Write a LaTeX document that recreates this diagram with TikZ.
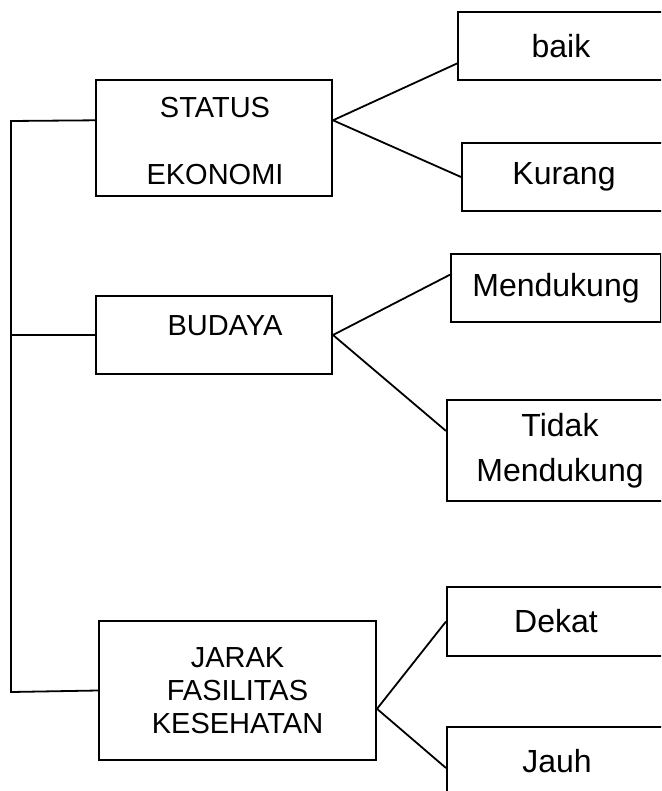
\documentclass[tikz,border=0pt]{standalone}
\usepackage{fontspec}
\setmainfont{Liberation Sans}
\usetikzlibrary{calc}
\begin{document}
\begin{tikzpicture}[x=1pt,y=-1pt,
  line width=2pt,
  box/.style={draw, rectangle, inner sep=0pt, line width=2pt},
  lefttxt/.style={font=\fontsize{29}{33}\selectfont, align=center, inner sep=0pt},
  righttxt/.style={font=\fontsize{32}{45}\selectfont, align=center, inner sep=0pt},
  conn/.style={line width=1.8pt}]
\clip (0,0) rectangle (661,791);
\fill[white] (0,0) rectangle (661,791);
% left boxes
\node[box, minimum width=236pt, minimum height=116pt] (se) at (214,138) {};
\node[lefttxt] (setxt1) at (215,108) {STATUS};
\node[lefttxt] (setxt2) at (215,175) {EKONOMI};
\node[box, minimum width=236pt, minimum height=78pt] (bu) at (214,335) {};
\node[lefttxt] (butxt) at (225,326) {BUDAYA};
\node[box, lefttxt, minimum width=277pt, minimum height=139pt] (jk) at (237.5,690.5) {JARAK\\FASILITAS\\KESEHATAN};
% right boxes
\node[box, righttxt, minimum width=206pt, minimum height=68pt] (baik) at (561,46) {baik};
\node[box, righttxt, minimum width=204pt, minimum height=68pt] (kur) at (564,177) {Kurang};
\node[box, righttxt, minimum width=210pt, minimum height=68pt] (men) at (556,288) {Mendukung};
\node[box, righttxt, minimum width=226pt, minimum height=101pt] (tid) at (560,450.5) {Tidak\\Mendukung};
\node[box, righttxt, minimum width=218pt, minimum height=69pt] (dek) at (556,621.5) {Dekat};
\node[box, righttxt, minimum width=220pt, minimum height=68pt] (jauh) at (557,761) {Jauh};
% anchor points
\coordinate (seW) at ($(se.north west)!0.35!(se.south west)$);
\coordinate (seE) at ($(se.north east)!0.35!(se.south east)$);
\coordinate (baikW) at ($(baik.north west)!0.75!(baik.south west)$);
\coordinate (menW) at ($(men.north west)!0.31!(men.south west)$);
\coordinate (tidW) at ($(tid.north west)!0.31!(tid.south west)$);
\coordinate (jkE) at ($(jk.north east)!0.63!(jk.south east)$);
\coordinate (jauhW) at ($(jauh.north west)!0.6!(jauh.south west)$);
\coordinate (ttop) at (11,121);
\coordinate (tbot) at (11,692);
% trunk
\draw[conn] (seW) -- (ttop) -- (tbot) -- (jk.west);
\draw[conn] (bu.west) -- (bu.west -| ttop);
% branches
\draw[conn] (baikW) -- (seE) -- (kur.west);
\draw[conn] (menW) -- (bu.east) -- (tidW);
\draw[conn] (dek.west) -- (jkE) -- (jauhW);
\end{tikzpicture}
\end{document}
